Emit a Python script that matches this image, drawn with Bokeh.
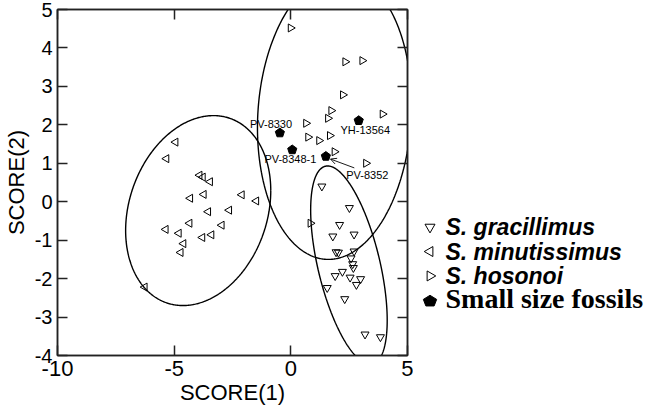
import numpy as np
from bokeh.plotting import figure
from bokeh.models import LinearAxis, Range1d, Arrow, OpenHead, FixedTicker
from bokeh.layouts import row
from bokeh.embed import file_html
from bokeh.resources import INLINE
from bokeh.core.properties import value

# ---------------- data ----------------
grac_x = [1.33, 2.51, 2.09, 1.80, 2.71, 1.94, 2.04, 2.71, 2.58, 2.65, 2.68, 2.21, 1.90, 2.54, 2.99, 2.81, 1.56, 2.31, 3.18, 3.84]
grac_y = [0.40, -0.16, -0.60, -0.90, -0.85, -1.31, -1.32, -1.29, -1.47, -1.62, -1.72, -1.82, -1.93, -1.97, -2.01, -2.16, -2.24, -2.53, -3.45, -3.52]

minu_x = [-4.94, -5.33, -3.91, -3.77, -3.46, -4.31, -3.73, -2.10, -1.48, -3.54, -2.64, -4.34, -2.96, -5.36, -4.80, -3.79, -3.40, -4.60, -4.72, -6.26]
minu_y = [1.55, 1.12, 0.69, 0.64, 0.52, 0.09, 0.19, 0.18, 0.02, -0.26, -0.22, -0.56, -0.61, -0.72, -0.82, -0.93, -0.86, -1.09, -1.32, -2.22]

hoso_x = [-0.01, 2.33, 3.06, 2.23, 1.73, 1.59, 3.93, 0.65, 0.74, 1.21, 1.67, 1.87, 3.22, 0.84]
hoso_y = [4.52, 3.64, 3.67, 2.78, 2.37, 2.17, 2.28, 2.04, 1.68, 1.59, 1.72, 1.30, 1.00, -0.56]

foss_x = [-0.47, 0.06, 2.91, 1.50]
foss_y = [1.79, 1.35, 2.11, 1.18]
foss_names = ["PV-8330", "PV-8348-1", "YH-13564", "PV-8352"]
foss_label_x = [-0.85, -0.02, 3.19, 3.28]
foss_label_y = [2.02, 1.11, 1.87, 0.69]
arrow_from = (2.72, 0.88)
arrow_to = (1.70, 1.11)

# ellipses: centre, half-extent in x, half-extent in y, correlation
ell_cx = [-3.97, 1.87, 2.49]
ell_cy = [-0.23, 2.22, -1.65]
ell_hx = [3.11, 3.30, 1.64]
ell_hy = [2.47, 3.72, 2.58]
ell_rho = [0.21, 0.08, -0.556]

x_ticks = [-10, -5, 0, 5]
y_ticks = [-4, -3, -2, -1, 0, 1, 2, 3, 4, 5]
X_RANGE = (-10, 5)
Y_RANGE = (-4, 5)

legend_labels = ["S. gracillimus", "S. minutissimus", "S. hosonoi", "Small size fossils"]

# ---------------- main plot ----------------
FW, FH = 350, 346
p = figure(frame_width=FW, frame_height=FH, x_range=Range1d(*X_RANGE), y_range=Range1d(*Y_RANGE),
           output_backend="svg", toolbar_location=None,
           min_border_left=54, min_border_right=6, min_border_top=9, min_border_bottom=56,
           x_axis_label="SCORE(1)", y_axis_label="SCORE(2)")
p.grid.visible = False
p.outline_line_color = "#222222"
p.outline_line_width = 1.5
p.background_fill_color = "white"
p.border_fill_color = "white"

def style_axis(ax, ticks, show_labels, font_size):
    ax.ticker = FixedTicker(ticks=ticks)
    ax.major_tick_in = 10
    ax.major_tick_out = 0
    ax.minor_tick_in = 0
    ax.minor_tick_out = 0
    ax.axis_line_color = "#222222"
    ax.axis_line_width = 1.5
    ax.major_tick_line_color = "#222222"
    ax.major_tick_line_width = 1.5
    if show_labels:
        ax.major_label_text_font = "Liberation Sans"
        ax.major_label_text_font_size = font_size
        ax.major_label_text_color = "black"
        ax.major_label_overrides = {tk: str(tk) for tk in ticks}
    else:
        ax.major_label_overrides = {tk: "" for tk in ticks}
        ax.major_label_text_font_size = "1px"
        ax.major_label_standoff = 0

xa = p.xaxis[0]
ya = p.yaxis[0]
style_axis(xa, x_ticks, True, "22px")
style_axis(ya, y_ticks, True, "20px")
xa.major_label_standoff = 5
ya.major_label_standoff = 5
for ax in (xa, ya):
    ax.axis_label_text_font = "Liberation Sans"
    ax.axis_label_text_font_size = "22px"
    ax.axis_label_text_font_style = "normal"
    ax.axis_label_text_color = "black"
xa.axis_label_standoff = 1
ya.axis_label_standoff = 3

top = LinearAxis()
style_axis(top, x_ticks, False, "1px")
p.add_layout(top, "above")
right = LinearAxis()
style_axis(right, y_ticks, False, "1px")
p.add_layout(right, "right")

# ellipses
t = np.linspace(0, 2 * np.pi, 500)
for cx, cy, hx, hy, rho in zip(ell_cx, ell_cy, ell_hx, ell_hy, ell_rho):
    ex = cx + hx * np.cos(t)
    ey = cy + hy * (rho * np.cos(t) + np.sqrt(1 - rho ** 2) * np.sin(t))
    p.line(ex, ey, line_color="black", line_width=1.4)

MS = 8
p.scatter(grac_x, grac_y, marker="inverted_triangle", size=MS, fill_alpha=0.0,
          line_color="black", line_width=1)
p.scatter(minu_x, minu_y, marker="triangle", angle=np.pi / 2, size=MS, fill_alpha=0.0,
          line_color="black", line_width=1)
p.scatter(hoso_x, hoso_y, marker="triangle", angle=-np.pi / 2, size=MS, fill_alpha=0.0,
          line_color="black", line_width=1)

# pentagons (filled) for fossils, radius in screen pixels
ppx = FW / (X_RANGE[1] - X_RANGE[0])
ppy = FH / (Y_RANGE[1] - Y_RANGE[0])
def pentagon(x0, y0, r, sx, sy):
    angs = np.pi / 2 + 2 * np.pi * np.arange(5) / 5
    return list(x0 + r * np.cos(angs) / sx), list(y0 + r * np.sin(angs) / sy)

pxs, pys = [], []
for fx, fy in zip(foss_x, foss_y):
    a, b = pentagon(fx, fy, 4.8, ppx, ppy)
    pxs.append(a)
    pys.append(b)
p.patches(pxs, pys, fill_color="black", line_color="black", line_width=1)

p.text(x=foss_label_x, y=foss_label_y, text=foss_names, text_font=value("Liberation Sans"),
       text_font_size="11px", text_align="center", text_baseline="middle", text_color="black")

p.add_layout(Arrow(end=OpenHead(size=6, line_width=0.9, line_color="black"),
                   x_start=arrow_from[0], y_start=arrow_from[1],
                   x_end=arrow_to[0], y_end=arrow_to[1],
                   line_width=0.9, line_color="black"))

# ---------------- legend panel ----------------
LW, LH = 250, 411
leg = figure(width=LW, height=LH, x_range=Range1d(0, LW), y_range=Range1d(0, LH),
             output_backend="svg", toolbar_location=None, min_border=0,
             x_axis_type=None, y_axis_type=None)
leg.grid.visible = False
leg.outline_line_color = None

row_top = 152.5
row_step = 29
rows_y = [row_top - i * row_step for i in range(len(legend_labels))]
mk_x = 16.5
tx_x = 32

leg.scatter([mk_x], [rows_y[0]], marker="inverted_triangle", size=10, fill_alpha=0.0,
            line_color="black", line_width=1)
leg.scatter([mk_x], [rows_y[1]], marker="triangle", angle=np.pi / 2, size=10, fill_alpha=0.0,
            line_color="black", line_width=1)
leg.scatter([mk_x], [rows_y[2]], marker="triangle", angle=-np.pi / 2, size=10, fill_alpha=0.0,
            line_color="black", line_width=1)
lpx, lpy = pentagon(mk_x, rows_y[3] - 1, 7, 1.0, 1.0)
leg.patch(lpx, lpy, fill_color="black", line_color="black")

leg.text(x=[tx_x] * 3, y=rows_y[:3], text=legend_labels[:3], text_font=value("Liberation Sans"),
         text_font_style="bold italic", text_font_size="23px", text_baseline="middle",
         text_align="left", text_color="black")
leg.text(x=[tx_x], y=[rows_y[3] + 2], text=legend_labels[3:], text_font=value("Liberation Serif"),
         text_font_style="bold", text_font_size="28px", text_baseline="middle",
         text_align="left", text_color="black")

layout = row(p, leg)
open("out.html", "w").write(file_html(layout, INLINE))
